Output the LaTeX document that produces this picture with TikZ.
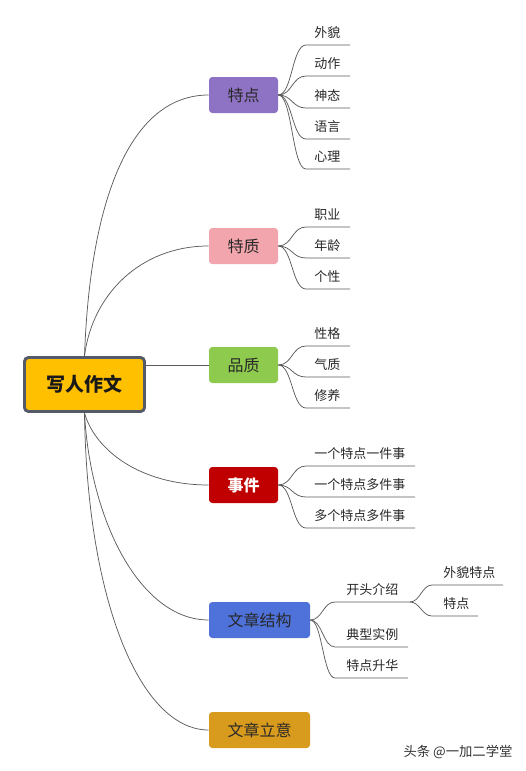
\documentclass[tikz,border=0pt]{standalone}
\usepackage{fontspec}
\setmainfont{Noto Sans CJK SC}
\definecolor{rootfill}{RGB}{255,192,0}
\definecolor{rootborder}{RGB}{84,90,104}
\definecolor{cpurple}{RGB}{142,114,196}
\definecolor{cpink}{RGB}{242,165,172}
\definecolor{cgreen}{RGB}{141,202,78}
\definecolor{cred}{RGB}{192,0,0}
\definecolor{cblue}{RGB}{78,114,218}
\definecolor{cgold}{RGB}{216,155,30}
\definecolor{linegray}{RGB}{90,90,90}
\definecolor{textdark}{RGB}{40,40,40}
\begin{document}
\begin{tikzpicture}[x=0.75pt,y=-0.75pt,
  conn/.style={draw=linegray, line width=0.55pt},
  branch/.style={rounded corners=2.5pt, minimum height=27pt, minimum width=51.75pt, inner sep=0pt, font=\fontsize{12}{14}\selectfont, text=textdark},
  widebranch/.style={branch, minimum width=75.75pt},
  leaf/.style={anchor=base west, inner sep=0pt, font=\fontsize{9.75}{11}\selectfont, text=textdark}]
\useasboundingbox (0,0) rectangle (525,771);

% root
\node[draw=rootborder, line width=2.2pt, fill=rootfill, rounded corners=3pt,
      minimum width=90pt, minimum height=40.5pt, inner sep=0pt,
      font=\fontsize{14.25}{16}\selectfont\bfseries, text=black!90] (root) at (84.5,384.5) {写人作文};

% branches
\node[branch, fill=cpurple] (tedian) at (243.5,95) {特点};
\node[branch, fill=cpink] (tezhi) at (243.5,246) {特质};
\node[branch, fill=cgreen] (pinzhi) at (243.5,365) {品质};
\node[branch, fill=cred, text=white, font=\fontsize{12}{14}\selectfont\bfseries] (shijian) at (243.5,485) {事件};
\node[widebranch, fill=cblue] (jiegou) at (259.5,620) {文章结构};
\node[widebranch, fill=cgold] (liyi) at (259.5,730) {文章立意};

% root connectors
\draw[conn] (root.north) .. controls (90,200) and (130,95) .. (tedian.west);
\draw[conn] (root.north) .. controls (92,295) and (140,246) .. (tezhi.west);
\draw[conn] (root.east |- pinzhi.west) -- (pinzhi.west);
\draw[conn] (root.south) .. controls (95,450) and (140,485) .. (shijian.west);
\draw[conn] (root.south) .. controls (90,520) and (140,620) .. (jiegou.west);
\draw[conn] (root.south) .. controls (87,600) and (140,730) .. (liyi.west);

% 特点 leaves
\foreach \t/\y [count=\i] in {外貌/45,动作/76,神态/108,语言/139,心理/169}{
  \node[leaf] (a\i) at (314,\y-7.5) {\t};
  \coordinate (a\i s) at (306,\y);
  \coordinate (a\i e) at (350,\y);
  \draw[conn] (tedian.east) .. controls +(14,0) and +(-14,0) .. (a\i s) -- (a\i e);
}
% 特质 leaves
\foreach \t/\y [count=\i] in {职业/227,年龄/258,个性/289}{
  \node[leaf] (b\i) at (314,\y-7.5) {\t};
  \coordinate (b\i s) at (306,\y);
  \coordinate (b\i e) at (350,\y);
  \draw[conn] (tezhi.east) .. controls +(14,0) and +(-14,0) .. (b\i s) -- (b\i e);
}
% 品质 leaves
\foreach \t/\y [count=\i] in {性格/346,气质/377,修养/408}{
  \node[leaf] (c\i) at (314,\y-7.5) {\t};
  \coordinate (c\i s) at (306,\y);
  \coordinate (c\i e) at (350,\y);
  \draw[conn] (pinzhi.east) .. controls +(14,0) and +(-14,0) .. (c\i s) -- (c\i e);
}
% 事件 leaves
\foreach \t/\y [count=\i] in {一个特点一件事/466,一个特点多件事/497,多个特点多件事/528}{
  \node[leaf] (d\i) at (314,\y-7.5) {\t};
  \coordinate (d\i s) at (306,\y);
  \coordinate (d\i e) at (415,\y);
  \draw[conn] (shijian.east) .. controls +(14,0) and +(-14,0) .. (d\i s) -- (d\i e);
}
% 文章结构 leaves
\foreach \t/\y/\e [count=\i] in {开头介绍/602/410,典型实例/647/408,特点升华/678/408}{
  \node[leaf] (e\i) at (346,\y-7.5) {\t};
  \coordinate (e\i s) at (335,\y);
  \coordinate (e\i e) at (\e,\y);
  \draw[conn] (jiegou.east) .. controls +(12,0) and +(-12,0) .. (e\i s) -- (e\i e);
}
% 开头介绍 sub-leaves
\foreach \t/\y/\e [count=\i] in {外貌特点/585/503,特点/616/478}{
  \node[leaf] (f\i) at (443,\y-7.5) {\t};
  \coordinate (f\i s) at (432,\y);
  \coordinate (f\i e) at (\e,\y);
  \draw[conn] (e1e) .. controls +(10,0) and +(-10,0) .. (f\i s) -- (f\i e);
}

% watermark
\node[inner sep=0pt, font=\fontsize{10}{12}\selectfont, text=black!80] (wm) at (458,752) {头条 @一加二学堂};
\end{tikzpicture}
\end{document}
